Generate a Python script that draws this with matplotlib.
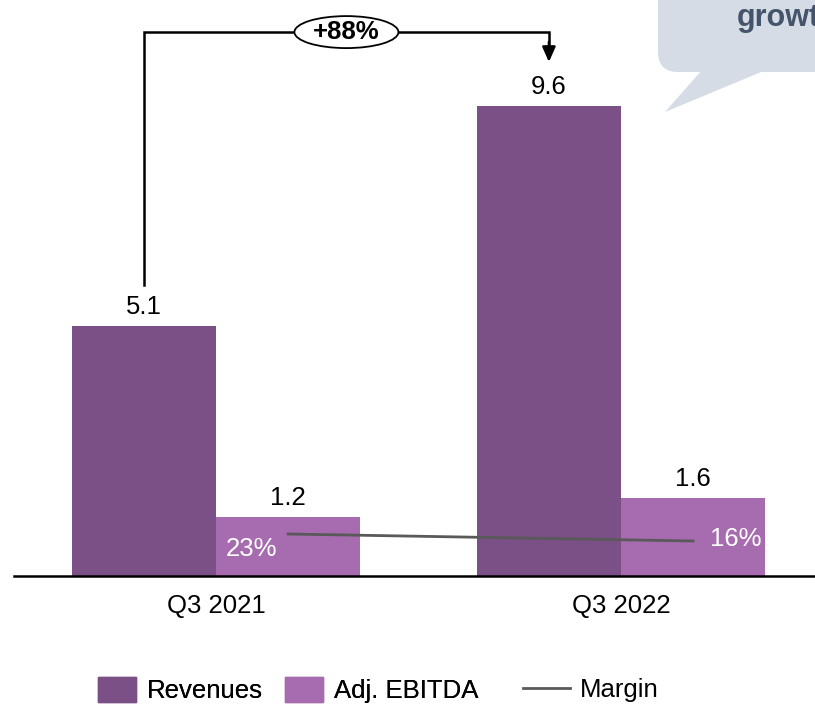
#!/usr/bin/env python3
import numpy as np
import matplotlib.pyplot as plt
from matplotlib.patches import Patch, FancyBboxPatch, Polygon, Ellipse
from matplotlib.lines import Line2D
from matplotlib.transforms import Affine2D

plt.rcParams['font.family'] = ['Liberation Sans', 'DejaVu Sans']

# quarterly figures
quarters = ["Q3 2021", "Q3 2022"]
revenues = [5.1, 9.6]
adj_ebitda = [1.2, 1.6]
margin = [0.23, 0.16]
growth_label = "+88%"

rev_color = "#7b5087"
ebitda_color = "#a76baf"
line_color = "#595959"
fs = 18.5

W, H = 815, 706
fig = plt.figure(figsize=(W / 100, H / 100), dpi=100)
ax = fig.add_axes([14 / W, 130 / H, (W - 14) / W, 576 / H])

x = np.arange(len(quarters))
bw = 0.356
ax.bar(x - bw / 2, revenues, bw, color=rev_color, label="Revenues")
ax.bar(x + bw / 2, adj_ebitda, bw, color=ebitda_color, label="Adj. EBITDA")

ax.set_xlim(-0.4988, 1.479)
ax.set_ylim(0, 11.755)
for s in ["top", "right", "left"]:
    ax.spines[s].set_visible(False)
ax.spines["bottom"].set_linewidth(1.8)
ax.set_yticks([])
ax.set_xticks(x)
ax.set_xticklabels(quarters, fontsize=fs)
ax.tick_params(axis="x", length=0, pad=13)

# value labels on top of the bars
for xi, v in zip(x - bw / 2, revenues):
    ax.annotate(f"{v:.1f}", (xi, v), xytext=(0, 5), textcoords="offset points",
                ha="center", va="bottom", fontsize=fs)
for xi, v in zip(x + bw / 2, adj_ebitda):
    ax.annotate(f"{v:.1f}", (xi, v), xytext=(0, 5), textcoords="offset points",
                ha="center", va="bottom", fontsize=fs)

# margin on its own scale
ax2 = ax.twinx()
ax2.set_ylim(-0.19, 5.57)
ax2.axis("off")
ax2.plot(x + bw / 2, margin, color=line_color, lw=2.0)
offsets = [(-26, -11), (31, 1.5)]
for xi, m, off in zip(x + bw / 2, margin, offsets):
    ax2.annotate(f"{m:.0%}", (xi, m), xytext=off, textcoords="offset points",
                 ha="center", va="center", fontsize=fs, color="white")

# growth bracket from the first revenue bar to the second
x0, x1 = x[0] - bw / 2, x[1] - bw / 2
y_top = 11.1
ax.plot([x0, x0, x1, x1], [5.94, y_top, y_top, 10.85], color="black", lw=1.8,
        clip_on=False, solid_joinstyle="miter")
ax.annotate("", xy=(x1, 10.49), xytext=(x1, 10.9),
            arrowprops=dict(arrowstyle="-|>,head_length=0.9,head_width=0.4",
                            color="black", lw=1.8, shrinkA=0, shrinkB=0))
xm = (x0 + x1) / 2
cx, cy = ax.transData.transform((xm, y_top))
fig.add_artist(Ellipse((cx, cy), 104, 32, transform=None, fc="white",
                       ec="black", lw=1.3, zorder=5))
fig.text(cx / W, cy / H, growth_label, ha="center", va="center", fontsize=fs,
         fontweight="bold", zorder=6)

# callout bubble in the corner
px = Affine2D().scale(1 / W, -1 / H).translate(0, 1) + fig.transFigure
bubble_c = "#d6dce5"
fig.add_artist(FancyBboxPatch((658, -40), 220, 112, boxstyle="round,pad=0,rounding_size=20",
                              transform=px, fc=bubble_c, ec="none"))
fig.add_artist(Polygon([(702, 70), (665, 112), (766, 70)], closed=True,
                       transform=px, fc=bubble_c, ec="none"))
fig.text(737 / W, 1 - 26 / H, "growth", ha="left", va="baseline", fontsize=22,
         fontweight="bold", color="#44546a")

# legend: bar swatches, then the margin line with a longer handle
leg_y = 1 - 690 / H
bar_leg = fig.legend([Patch(color=rev_color), Patch(color=ebitda_color)],
                     ["Revenues", "Adj. EBITDA"], loc="center left",
                     bbox_to_anchor=(98 / W, leg_y), ncol=2, frameon=False,
                     fontsize=fs, handlelength=1.48, handleheight=1.1,
                     handletextpad=0.43, columnspacing=0.86,
                     borderpad=0, borderaxespad=0)
fig.add_artist(bar_leg)
fig.legend([Line2D([], [], color=line_color, lw=2.0)], ["Margin"],
           loc="center left", bbox_to_anchor=(523 / W, leg_y), frameon=False,
           fontsize=fs, handlelength=1.83, handletextpad=0.39,
           borderpad=0, borderaxespad=0)

fig.savefig("out.png", dpi=100)
